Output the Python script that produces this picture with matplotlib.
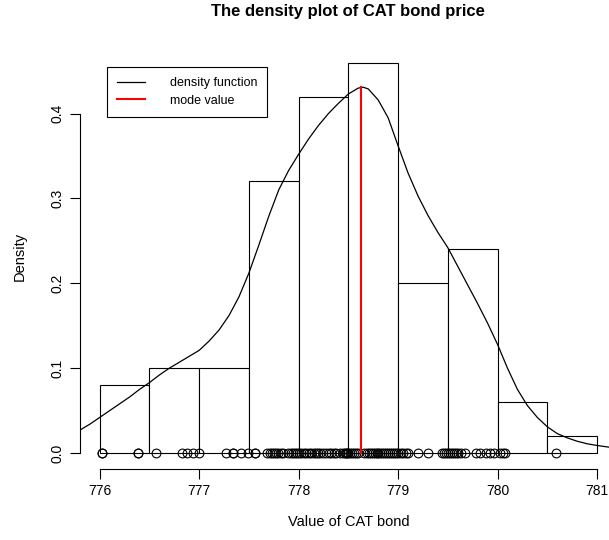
import numpy as np
import matplotlib.pyplot as plt

plt.rcParams['font.family'] = ['Liberation Sans', 'DejaVu Sans']

# simulated CAT bond prices (rug along the bottom)
prices = [
    776.02, 776.02, 776.39, 776.39,
    776.57, 776.83, 776.88, 776.94, 777.00,
    777.27, 777.34, 777.34, 777.42, 777.49,
    777.56, 777.56, 777.68, 777.71, 777.73, 777.75, 777.77, 777.79,
    777.82, 777.84, 777.89, 777.92, 777.94, 777.96, 777.98, 778.00,
    778.02, 778.05, 778.07, 778.10, 778.12, 778.15, 778.17, 778.19,
    778.22, 778.25, 778.28, 778.31, 778.33, 778.36, 778.38, 778.42,
    778.45, 778.47, 778.48, 778.49, 778.50,
    778.52, 778.54, 778.56, 778.58, 778.60, 778.66, 778.69, 778.71,
    778.73, 778.75, 778.77, 778.79, 778.80, 778.82, 778.84, 778.86,
    778.88, 778.90, 778.92, 778.94, 778.96, 778.98, 779.00,
    779.03, 779.05, 779.08, 779.10, 779.20, 779.30, 779.44, 779.46,
    779.48, 779.50,
    779.52, 779.54, 779.56, 779.58, 779.60, 779.63, 779.67, 779.78,
    779.82, 779.88, 779.92, 779.96,
    780.02, 780.05, 780.07,
    780.59,
]

# histogram bins and densities
bin_edges = [776.0, 776.5, 777.0, 777.5, 778.0, 778.5, 779.0, 779.5, 780.0, 780.5, 781.0]
bin_density = [0.08, 0.10, 0.10, 0.32, 0.42, 0.46, 0.20, 0.24, 0.06, 0.02]

# estimated density curve
dens_x = [775.8, 775.9, 776.0, 776.1, 776.2, 776.3, 776.4, 776.5, 776.6, 776.7,
          776.8, 776.9, 777.0, 777.1, 777.2, 777.3, 777.4, 777.5, 777.6, 777.7,
          777.8, 777.9, 778.0, 778.1, 778.2, 778.3, 778.4, 778.5, 778.6, 778.65,
          778.7, 778.8, 778.9, 779.0, 779.1, 779.2, 779.3, 779.4, 779.5, 779.6,
          779.7, 779.8, 779.9, 780.0, 780.1, 780.2, 780.3, 780.4, 780.5, 780.6,
          780.7, 780.8, 780.9, 781.0, 781.12]
dens_y = [0.027, 0.034, 0.042, 0.050, 0.058, 0.066, 0.075, 0.083, 0.092, 0.100,
          0.107, 0.114, 0.121, 0.132, 0.145, 0.162, 0.184, 0.212, 0.245, 0.279,
          0.310, 0.333, 0.352, 0.370, 0.386, 0.400, 0.412, 0.423, 0.430, 0.431,
          0.429, 0.416, 0.395, 0.362, 0.330, 0.303, 0.280, 0.260, 0.242, 0.220,
          0.198, 0.176, 0.153, 0.128, 0.100, 0.075, 0.056, 0.042, 0.031, 0.023,
          0.018, 0.014, 0.011, 0.009, 0.007]

mode_x = 778.63
mode_y = 0.431

fig = plt.figure(figsize=(6.09, 5.40), dpi=100)
ax = fig.add_axes([0.131, 0.132, 0.882, 0.781])

widths = np.diff(bin_edges)
ax.bar(bin_edges[:-1], bin_density, width=widths, align='edge',
       facecolor='white', edgecolor='black', linewidth=0.8)
ax.plot(dens_x, dens_y, color='black', linewidth=0.9, label='density function')
ax.plot(prices, np.zeros(len(prices)), linestyle='none', marker='o', ms=6.3,
        mfc='none', mec='black', mew=0.8)
ax.plot([mode_x, mode_x], [0, mode_y], color='red', linewidth=1.5, label='mode value')

ax.set_xlim(775.8, 781.2)
ax.set_ylim(-0.0184, 0.4784)

for side in ['top', 'right']:
    ax.spines[side].set_visible(False)
ax.spines['left'].set_bounds(0, 0.4)
ax.spines['bottom'].set_bounds(776, 781)
ax.spines['left'].set_linewidth(0.8)
ax.spines['bottom'].set_linewidth(0.8)

ax.set_xticks([776, 777, 778, 779, 780, 781])
ax.set_yticks([0.0, 0.1, 0.2, 0.3, 0.4])
ax.set_yticklabels(['0.0', '0.1', '0.2', '0.3', '0.4'], rotation=90, va='center')
ax.tick_params(length=7, width=0.8, labelsize=10, pad=4)

leg = ax.legend(loc='upper left', bbox_to_anchor=(0.05, 0.952), fontsize=9,
                fancybox=False, edgecolor='black', framealpha=1,
                handlelength=2.25, handletextpad=2.0, borderpad=0.8,
                labelspacing=0.45, borderaxespad=0)
leg.get_frame().set_linewidth(0.8)

fig.text(0.572, 0.978, 'The density plot of CAT bond price', ha='center', va='center',
         fontsize=12, fontweight='bold')
fig.text(0.572, 0.033, 'Value of CAT bond', ha='center', va='center', fontsize=10.5)
fig.text(0.033, 0.525, 'Density', ha='center', va='center', rotation=90, fontsize=10.5)

fig.savefig('out.png', dpi=100)
